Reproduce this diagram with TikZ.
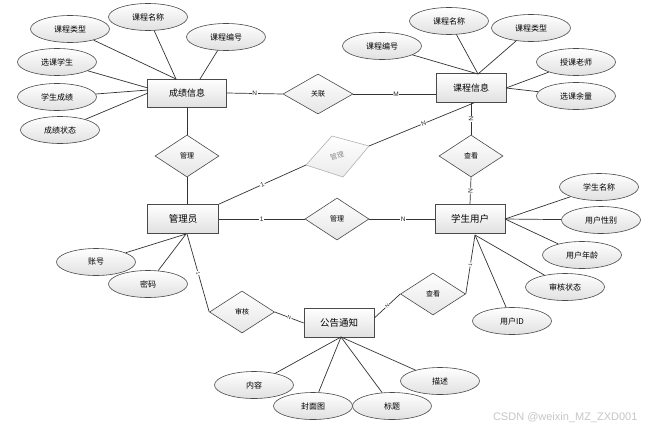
\documentclass[tikz,border=0pt]{standalone}
\usepackage{fontspec}
\newfontfamily\cjk{Noto Sans CJK SC}
\setmainfont{Liberation Sans}
\usetikzlibrary{shapes.geometric,calc}
\definecolor{bd}{HTML}{4A4A4A}
\definecolor{ln}{HTML}{333333}
\begin{document}
\begin{tikzpicture}[x=1pt,y=-1pt,
  entity/.style={draw=bd, line width=0.7pt, rectangle, minimum width=70pt, minimum height=29pt, inner sep=0pt,
    top color=white, bottom color=black!12, font=\cjk\fontsize{9}{10}\selectfont},
  attr/.style={draw=bd, line width=0.6pt, ellipse, minimum width=79pt, minimum height=27pt, inner sep=0pt,
    top color=white, bottom color=black!12, font=\cjk\fontsize{8}{9}\selectfont},
  rel/.style={draw=bd, line width=0.6pt, diamond, minimum width=64pt, minimum height=42pt, inner sep=0pt, aspect=1.5,
    top color=white, bottom color=black!10, font=\cjk\fontsize{7}{8}\selectfont},
  conn/.style={draw=ln, line width=0.7pt},
  lbl/.style={fill=white, inner sep=0.6pt, font=\fontsize{6.5}{7}\selectfont, text=black!85},
]
\useasboundingbox (0,0) rectangle (655,431);
\fill[white] (0,0) rectangle (655,431);

% entities
\node[entity, minimum width=79pt, minimum height=28pt] (cj) at (187,93) {成绩信息};
\node[entity] (kc) at (471,88) {课程信息};
\node[entity, minimum width=71pt, font=\cjk\fontsize{9.5}{10}\selectfont] (gly) at (183,219) {管理员};
\node[entity, font=\cjk\fontsize{9.5}{10}\selectfont] (xs) at (470,219) {学生用户};
\node[entity, font=\cjk\fontsize{9.5}{10}\selectfont] (gg) at (339,323) {公告通知};

% relationships
\node[rel, minimum width=70pt, minimum height=40pt] (gl) at (318,94) {关联};
\node[rel] (gl1) at (187,156) {管理};
\node[rel] (gl2) at (337,219) {管理};
\node[rel] (ck1) at (471,156) {查看};
\node[rel, minimum width=65pt] (sh) at (242,312) {审核};
\node[rel, minimum width=65pt] (ck2) at (433,294) {查看};

% grey skewed relationship
\coordinate (gL) at (306,165);
\coordinate (gT) at (332,136);
\coordinate (gR) at (369,146);
\coordinate (gB) at (343,177);
\path[draw=black!30, line width=0.6pt, top color=white, bottom color=black!8] (gL) -- (gT) -- (gR) -- (gB) -- cycle;
\node[rotate=17, inner sep=0pt, text=black!45, font=\cjk\fontsize{7}{8}\selectfont] (gm) at (337,156) {管理};

% attributes of 成绩信息
\node[attr] (a1) at (70,29) {课程类型};
\node[attr] (a2) at (148,17) {课程名称};
\node[attr] (a3) at (226,37) {课程编号};
\node[attr] (a4) at (57,62) {选课学生};
\node[attr] (a5) at (57,97) {学生成绩};
\node[attr] (a6) at (60,130) {成绩状态};
\coordinate (cjt1) at (176,79);
\coordinate (cjt2) at (200,79);
\coordinate (cjl1) at (148,88);
\coordinate (cjl2) at (148,90);
\coordinate (cjl3) at (148,93);
\draw[conn] (a1) -- (cjt1);
\draw[conn] (a2) -- (cjt1);
\draw[conn] (a3) -- (cjt2);
\draw[conn] (a4) -- (cjl1);
\draw[conn] (a5) -- (cjl2);
\draw[conn] (a6) -- (cjl3);

% attributes of 课程信息
\node[attr] (b1) at (382,46) {课程编号};
\node[attr] (b2) at (449,21) {课程名称};
\node[attr] (b3) at (531,28) {课程类型};
\node[attr] (b4) at (576,62) {授课老师};
\node[attr] (b5) at (576,96) {选课余量};
\coordinate (kct) at (478,74);
\coordinate (kcr) at (506,88);
\draw[conn] (b1) -- (kct);
\draw[conn] (b2) -- (kct);
\draw[conn] (b3) -- (kct);
\draw[conn] (b4) -- (kcr);
\draw[conn] (b5) -- (kcr);

% attributes of 学生用户
\node[attr] (c1) at (599,187) {学生名称};
\node[attr] (c2) at (601,220) {用户性别};
\node[attr] (c3) at (582,255) {用户年龄};
\node[attr] (c4) at (565,287) {审核状态};
\node[attr] (c5) at (512,321) {用户ID};
\coordinate (xsr) at (505,219);
\coordinate (xsb) at (475,235);
\draw[conn] (c1) -- (xsr);
\draw[conn] (c2) -- (xsr);
\draw[conn] (c3) -- (xsr);
\draw[conn] (c4) -- (xsb);
\draw[conn] (c5) -- (xsb);

% attributes of 管理员
\node[attr] (d1) at (96,262) {账号};
\node[attr] (d2) at (148,284) {密码};
\coordinate (glyb) at (186,234);
\draw[conn] (d1) -- (glyb);
\draw[conn] (d2) -- (glyb);

% attributes of 公告通知
\node[attr] (e1) at (254,385) {内容};
\node[attr] (e4) at (440,381) {描述};
\coordinate (ggb) at (341,337);
\draw[conn] (e1) -- (ggb);
\draw[conn] (e4) -- (ggb);
\node[attr] (e2) at (313,406) {封面图};
\node[attr] (e3) at (392,406) {标题};
\draw[conn] (e2) -- (ggb);
\draw[conn] (e3) -- (ggb);

% relationship connectors
\draw[conn] (cj.east) -- node[lbl]{N} (gl.west);
\coordinate (kcl) at (gl.east -| kc.west);
\draw[conn] (gl.east) -- node[lbl, pos=0.52]{M} (kcl);
\draw[conn] (kc.south) -- node[lbl, sloped]{N} (ck1.north);
\draw[conn] (ck1.south) -- node[lbl, sloped]{N} (xs.north);
\draw[conn] (cj.south) -- (gl1.north);
\coordinate (glyt) at (gl1.south |- gly.north);
\draw[conn] (gl1.south) -- (glyt);
\draw[conn] (gly.north east) -- node[lbl, sloped]{1} (gL);
\draw[conn] (gR) -- node[lbl, sloped, pos=0.52]{N} ($(kc.south)+(3,0)$);
\draw[conn] (gly.east) -- node[lbl]{1} (gl2.west);
\draw[conn] (gl2.east) -- node[lbl, pos=0.52]{N} (xs.west);
\draw[conn] ($(gly.south)+(4,0)$) -- node[lbl, sloped, font=\fontsize{5}{6}\selectfont]{1} (sh.west);
\draw[conn] (sh.east) -- node[lbl, sloped, font=\fontsize{5}{6}\selectfont]{N} (gg.west);
\draw[conn] ($(gg.east)+(0,-5)$) -- node[lbl, sloped, font=\fontsize{5}{6}\selectfont]{N} (ck2.west);
\draw[conn] (ck2.east) -- node[lbl, sloped, font=\fontsize{5}{6}\selectfont]{1} (xsb);

% watermark
\node[text=black!22, font=\fontsize{11}{12}\selectfont, anchor=east] (wm) at (641,418) {CSDN @weixin\_MZ\_ZXD001};
\end{tikzpicture}
\end{document}
